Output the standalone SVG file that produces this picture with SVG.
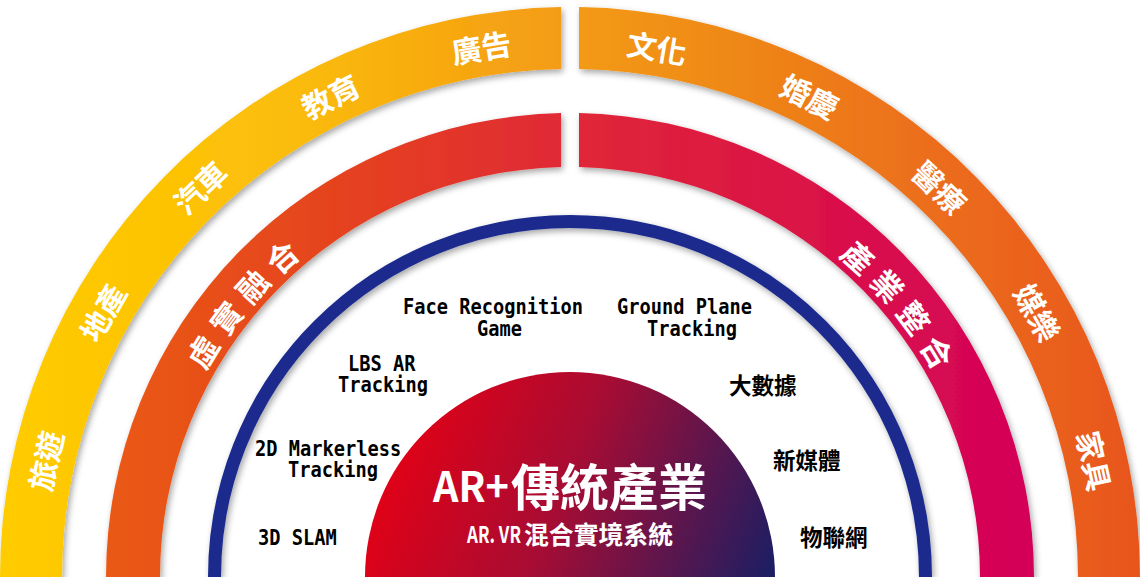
<svg xmlns="http://www.w3.org/2000/svg" width="1140" height="577" viewBox="0 0 1140 577">
  <defs>
    <linearGradient id="gOuter" gradientUnits="userSpaceOnUse" x1="0" y1="0" x2="1140" y2="0">
      <stop offset="0" stop-color="#FFCC00"/>
      <stop offset="0.25" stop-color="#FBBD09"/>
      <stop offset="0.45" stop-color="#F5A113"/>
      <stop offset="0.6" stop-color="#F08E18"/>
      <stop offset="0.8" stop-color="#EC701A"/>
      <stop offset="1" stop-color="#E8551A"/>
    </linearGradient>
    <linearGradient id="gInner" gradientUnits="userSpaceOnUse" x1="100" y1="0" x2="1040" y2="0">
      <stop offset="0" stop-color="#EA5A14"/>
      <stop offset="0.25" stop-color="#E5431F"/>
      <stop offset="0.5" stop-color="#E02836"/>
      <stop offset="0.72" stop-color="#DB1545"/>
      <stop offset="1" stop-color="#D4005A"/>
    </linearGradient>
    <linearGradient id="gCore" gradientUnits="userSpaceOnUse" x1="390" y1="420" x2="770" y2="577">
      <stop offset="0" stop-color="#E60014"/>
      <stop offset="0.45" stop-color="#A80C33"/>
      <stop offset="1" stop-color="#1C1E63"/>
    </linearGradient>
    <filter id="shadow" x="-10%" y="-10%" width="120%" height="120%">
      <feDropShadow dx="2" dy="3" stdDeviation="3" flood-color="#000" flood-opacity="0.35"/>
    </filter>
  </defs>
  <style>
    .band-o { fill: url(#gOuter); filter: url(#shadow); }
    .band-i { fill: url(#gInner); filter: url(#shadow); }
    .ring { fill: none; stroke: #1B2C8D; stroke-width: 13; filter: url(#shadow); }
    .wl { font-family: "Noto Sans CJK TC", "Noto Sans CJK SC", sans-serif; font-weight: 700; fill: #fff; text-anchor: middle; dominant-baseline: central; }
    .o { font-size: 30px; }
    .i { font-size: 31px; }
    .mono { font-family: "DejaVu Sans Mono", "Liberation Mono", monospace; font-weight: 700; font-size: 18.7px; fill: #000; }
    .cjk { font-family: "Noto Sans CJK TC", "Noto Sans CJK SC", sans-serif; font-weight: 700; font-size: 22.5px; fill: #000; }
    .core { font-family: "Noto Sans CJK TC", "Noto Sans CJK SC", sans-serif; font-weight: 700; fill: #fff; }
  </style>
  <rect width="1140" height="577" fill="#fff"/>

  <g id="outer-band-left">
    <path class="band-o" d="M0,577 A570,570 0 0 1 561,7.07 L561,69.08 A508,508 0 0 0 62,577 Z"/>
    <text class="wl o" transform="translate(44.7,460.6) rotate(-77.5)">旅遊</text>
    <text class="wl o" transform="translate(101.7,312.1) rotate(-60.5)">地產</text>
    <text class="wl o" transform="translate(199.6,186.7) rotate(-43.5)">汽車</text>
    <text class="wl o" transform="translate(329.9,95.5) rotate(-26.5)">教育</text>
    <text class="wl o" transform="translate(481.2,46.4) rotate(-9.5)">廣告</text>
  </g>
  <g id="outer-band-right">
    <path class="band-o" d="M579,7.07 A570,570 0 0 1 1140,577 L1078,577 A508,508 0 0 0 579,69.08 Z"/>
    <text class="wl o" transform="translate(657,47) rotate(9.5)">文化</text>
    <text class="wl o" transform="translate(810.1,95.5) rotate(26.5)">婚慶</text>
    <text class="wl o" transform="translate(940.4,186.7) rotate(43.5)">醫療</text>
    <text class="wl o" transform="translate(1038.3,312.1) rotate(60.5)">媒樂</text>
    <text class="wl o" transform="translate(1095.3,460.6) rotate(77.5)">家具</text>
  </g>

  <g id="inner-band-left">
    <path class="band-i" d="M106,577 A464,464 0 0 1 561,113.09 L561,167.1 A410,410 0 0 0 160,577 Z"/>
    <text class="wl i" transform="translate(201.7,351.3) rotate(-58.5)">虛</text>
    <text class="wl i" transform="translate(225,317) rotate(-53)">實</text>
    <text class="wl i" transform="translate(251.5,285.1) rotate(-47.5)">融</text>
    <text class="wl i" transform="translate(280.9,256) rotate(-42)">合</text>
  </g>
  <g id="inner-band-right">
    <path class="band-i" d="M579,113.09 A464,464 0 0 1 1034,577 L980,577 A410,410 0 0 0 579,167.1 Z"/>
    <text class="wl i" transform="translate(859.1,256) rotate(42)">產</text>
    <text class="wl i" transform="translate(888.5,285.1) rotate(47.5)">業</text>
    <text class="wl i" transform="translate(915,317) rotate(53)">整</text>
    <text class="wl i" transform="translate(938.3,351.3) rotate(58.5)">合</text>
  </g>

  <g id="ring">
    <path class="ring" d="M214.5,577 A355.5,355.5 0 0 1 925.5,577"/>
  </g>

  <g id="core">
    <path d="M365,577 A205,205 0 0 1 775,577 Z" fill="url(#gCore)"/>
    <text class="core"><tspan x="433" y="502" font-size="42" textLength="76" lengthAdjust="spacingAndGlyphs">AR+</tspan><tspan x="511" y="506" font-size="50" textLength="196" lengthAdjust="spacingAndGlyphs">傳統產業</tspan></text>
    <text class="core"><tspan x="467" y="543" font-size="23" textLength="54" lengthAdjust="spacingAndGlyphs">AR. VR</tspan><tspan x="524" y="544" font-size="25" textLength="149" lengthAdjust="spacingAndGlyphs">混合實境系統</tspan></text>
  </g>

  <g id="tech-face"><text class="mono" transform="translate(403,314) scale(1,1.12)"><tspan x="0" y="0">Face Recognition</tspan><tspan x="74" y="19.6">Game</tspan></text></g>
  <g id="tech-ground"><text class="mono" transform="translate(617,314) scale(1,1.12)"><tspan x="0" y="0">Ground Plane</tspan><tspan x="30" y="19.6">Tracking</tspan></text></g>
  <g id="tech-lbs"><text class="mono" transform="translate(348,371) scale(1,1.12)"><tspan x="0" y="0">LBS AR</tspan><tspan x="-10" y="18.75">Tracking</tspan></text></g>
  <g id="tech-2d"><text class="mono" transform="translate(255,456) scale(1,1.12)"><tspan x="0" y="0">2D Markerless</tspan><tspan x="33" y="18.75">Tracking</tspan></text></g>
  <g id="tech-3d"><text class="mono" transform="translate(258,545) scale(1,1.12)">3D SLAM</text></g>
  <g id="tech-bigdata"><text class="cjk" x="729" y="394">大數據</text></g>
  <g id="tech-newmedia"><text class="cjk" x="773" y="469">新媒體</text></g>
  <g id="tech-iot"><text class="cjk" x="800" y="546">物聯網</text></g>

  <g id="connectors"/>
</svg>
